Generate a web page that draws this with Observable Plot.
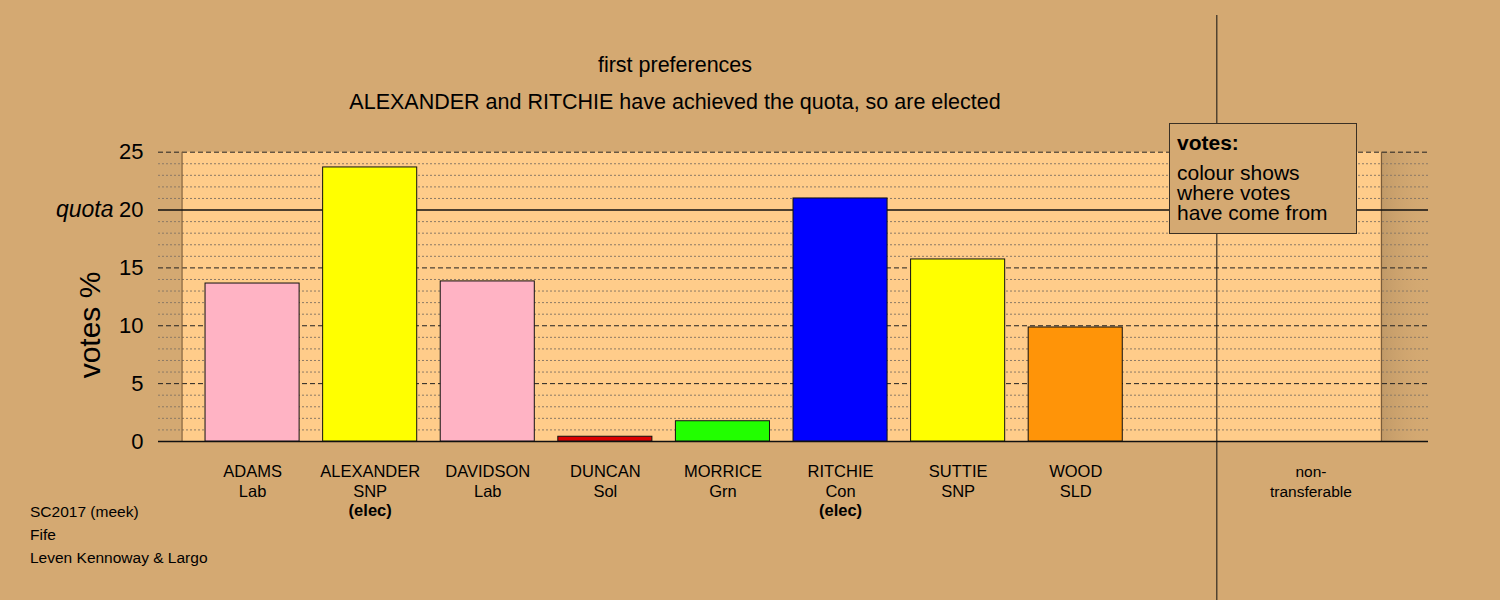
<!DOCTYPE html>
<html><head><meta charset="utf-8">
<script src="https://cdn.jsdelivr.net/npm/d3@7"></script>
<script src="https://cdn.jsdelivr.net/npm/@observablehq/plot@0.6"></script>
<style>
html,body{margin:0;padding:0;background:#D4A972;}
#wrap{position:relative;width:1500px;height:600px;font-family:"Liberation Sans",Arial,sans-serif;color:#000;overflow:hidden;}
#wrap svg{position:absolute;left:0;top:0;}
.t{position:absolute;white-space:nowrap;line-height:1;}
</style></head><body><div id="wrap"></div>
<script>
// ---- data ----
const candidates = ["ADAMS","ALEXANDER","DAVIDSON","DUNCAN","MORRICE","RITCHIE","SUTTIE","WOOD"];
const parties = ["Lab","SNP","Lab","Sol","Grn","Con","SNP","SLD"];
const votes = [13.65, 23.68, 13.83, 0.41, 1.75, 21.0, 15.73, 9.85];
const elected = [false, true, false, false, false, true, false, false];
const barColors = ["#FFB3C4","#FFFF00","#FFB3C4","#DD0000","#22FF00","#0000FF","#FFFF00","#FF9408"];
const nonTransferableLabel = "non-\ntransferable";
const nonTransferableVotes = 0;
const quota = 20;
const yTicks = [0, 5, 10, 15, 20, 25];
const titleText = "first preferences";
const subtitleText = "ALEXANDER and RITCHIE have achieved the quota, so are elected";
const captionLines = ["SC2017 (meek)", "Fife", "Leven Kennoway & Largo"];
const legendTitle = "votes:";
const legendLines = ["colour shows", "where votes", "have come from"];
const yLabel = "votes %";

// ---- derived tables ----
const BG = "#D4A972", PANEL = "#FFCC8A";
const bars = candidates.map((c, i) => ({i, name: c, party: parties[i], votes: votes[i], elected: elected[i], color: barColors[i]}));
const ntIndex = candidates.length + 1;
const yMax = d3.max(yTicks);
const minorTicks = d3.range(1, yMax + 1).filter(v => v % 5 !== 0);
const dashedTicks = yTicks.filter(v => v !== 0 && v !== quota);
const solidTicks = [0, quota];
const panel = [{x1: -0.6, x2: ntIndex + 0.6, y1: 0, y2: yMax}];
const shade = [{x1: ntIndex + 0.6, x2: ntIndex + 1, y1: 0, y2: yMax}];
const divider = ntIndex - 0.8;

const defsMark = () => {
  const defs = d3.create("svg:defs");
  const g = defs.append("linearGradient").attr("id", "shade").attr("x1", 0).attr("x2", 1).attr("y1", 0).attr("y2", 0);
  g.append("stop").attr("offset", 0).attr("stop-color", "#A9865A").attr("stop-opacity", 0.45);
  g.append("stop").attr("offset", 1).attr("stop-color", BG).attr("stop-opacity", 0);
  return defs.node();
};

const chart = Plot.plot({
  width: 1500, height: 600,
  marginTop: 15, marginBottom: 0, marginLeft: 158, marginRight: 72,
  style: {background: BG, color: "black", fontFamily: "'Liberation Sans', Arial, sans-serif"},
  x: {domain: [-0.8, ntIndex + 1], axis: null},
  y: {domain: [-13.74, 36.81], axis: null},
  marks: [
    defsMark,
    Plot.rect(panel, {x1: "x1", x2: "x2", y1: "y1", y2: "y2", fill: PANEL}),
    Plot.rect(shade, {x1: "x1", x2: "x2", y1: "y1", y2: "y2", fill: "url(#shade)"}),
    Plot.ruleY(minorTicks, {stroke: "#8C7A66", strokeWidth: 1, strokeDasharray: "2,2"}),
    Plot.ruleY(dashedTicks, {stroke: "#222", strokeWidth: 1, strokeDasharray: "5,3"}),
    Plot.ruleX([panel[0].x1, panel[0].x2], {y1: 0, y2: yMax, stroke: "#7A5C3A", strokeWidth: 1.2}),
    Plot.ruleY(solidTicks, {stroke: "#111", strokeWidth: 1.5}),
    Plot.rect(bars, {x1: d => d.i - 0.4, x2: d => d.i + 0.4, y1: 0, y2: "votes", fill: "color", stroke: "#111", strokeWidth: 1}),
    Plot.ruleX([divider], {stroke: "#111", strokeWidth: 1}),
    Plot.axisY({ticks: yTicks, tickSize: 0, tickPadding: 15, fontSize: 22, label: null, anchor: "left"}),
    Plot.text([quota], {x: -0.8, y: d => d, text: () => "quota", dx: -45, textAnchor: "end", fontSize: 23, fontStyle: "italic"}),
    Plot.text(bars, {x: "i", y: 0, text: d => d.name + "\n" + d.party, dy: 21, lineAnchor: "top", fontSize: 16.5, lineHeight: 20 / 16.5}),
    Plot.text(bars.filter(d => d.elected), {x: "i", y: 0, text: () => "(elec)", dy: 63, lineAnchor: "top", fontSize: 16.5, fontWeight: "bold"}),
    Plot.text([nonTransferableVotes], {x: ntIndex, y: 0, text: () => nonTransferableLabel, dy: 21, lineAnchor: "top", fontSize: 15.5, lineHeight: 20 / 15.5})
  ]
});

const wrap = document.getElementById("wrap");
wrap.appendChild(chart);

function addText(txt, css) {
  const d = document.createElement("div");
  d.className = "t";
  d.textContent = txt;
  Object.assign(d.style, css);
  wrap.appendChild(d);
  return d;
}
// titles (centred at x=675)
addText(titleText, {left: "0px", width: "1350px", textAlign: "center", top: "55px", fontSize: "21.5px"});
addText(subtitleText, {left: "0px", width: "1350px", textAlign: "center", top: "91.5px", fontSize: "21.5px"});
// y label
addText(yLabel, {left: "90px", top: "325px", fontSize: "30px", transform: "translate(-50%,-50%) rotate(-90deg)"});
// caption
captionLines.forEach((s, k) => addText(s, {left: "30px", top: (504 + 23 * k) + "px", fontSize: "15.5px"}));
// legend box
const box = document.createElement("div");
Object.assign(box.style, {position: "absolute", left: "1169px", top: "123px", width: "186px", height: "109px", border: "1px solid #3a3024", background: BG});
wrap.appendChild(box);
addText(legendTitle, {left: "1177px", top: "132px", fontSize: "21px", fontWeight: "bold"});
legendLines.forEach((s, k) => addText(s, {left: "1177px", top: (162 + 20 * k) + "px", fontSize: "21px"}));
</script></body></html>
